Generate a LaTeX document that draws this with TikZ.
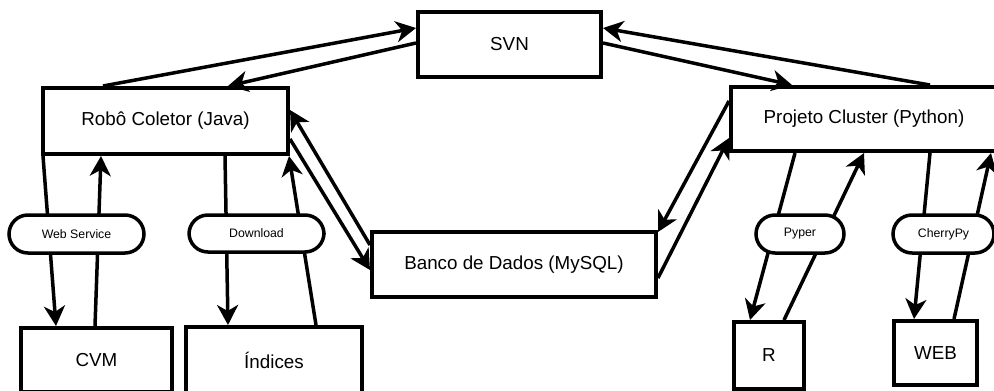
\documentclass[tikz,border=0pt]{standalone}
\usepackage{fontspec}
\setmainfont{Liberation Sans}
\usepackage{tikz}
\usetikzlibrary{arrows.meta, positioning, calc}

\begin{document}
\begin{tikzpicture}[x=1pt, y=-1pt,
        boite/.style={draw, line width=4pt, inner sep=0pt, font=\fontsize{18.8}{22}\selectfont},
        pilule/.style={draw, fill=white, line width=3.5pt, rounded corners=19pt, inner sep=0pt, font=\fontsize{12.3}{15}\selectfont},
        trait/.style={line width=3.5pt},
        fleche/.style={trait, -{Stealth[length=20pt, width=21pt, inset=6pt]}}]
        % Cadre de l'image
        \useasboundingbox (0,0) rectangle (994,391);
        \clip (0,0) rectangle (994,391);
        % Les boites
        \node[boite, minimum width=183pt, minimum height=65pt] (svn) at (509.5,44.5) {SVN};
        \node[boite, minimum width=245pt, minimum height=66pt] (robo) at (165.5,121) {Robô Coletor (Java)};
        \node[boite, minimum width=266pt, minimum height=64pt] (cluster) at (864,119) {Projeto Cluster (Python)};
        \node[boite, minimum width=284pt, minimum height=65pt] (banco) at (514,264.5) {Banco de Dados (MySQL)};
        \node[boite, minimum width=151pt, minimum height=64pt] (cvm) at (96.5,360) {CVM};
        \node[boite, minimum width=176pt, minimum height=66pt] (indices) at (274,360) {Índices};
        \node[boite, minimum width=70pt, minimum height=67pt] (r) at (769,355.5) {R};
        \node[boite, minimum width=83pt, minimum height=64pt] (web) at (935.5,353) {WEB};
        % Fleches vers SVN
        \draw[fleche] ($(robo.north west)+(62,0)$) -- ($(svn.north west)+(0,18)$);
        \draw[fleche] ($(svn.north west)+(0,33)$) -- ($(robo.north west)+(187,0)$);
        \draw[fleche] ($(svn.north east)+(0,33)$) -- ($(cluster.north west)+(63,0)$);
        \draw[fleche] ($(cluster.north west)+(201,0)$) -- ($(svn.north east)+(0,18)$);
        % Fleches vers la base
        \draw[fleche] ($(banco.north west)+(0,15)$) -- ($(robo.north east)+(0,24)$);
        \draw[fleche] ($(robo.north east)+(0,53)$) -- ($(banco.north west)+(0,40)$);
        \draw[fleche] ($(cluster.north west)+(0,16)$) -- ($(banco.north east)+(0,2)$);
        \draw[fleche] ($(banco.north east)+(0,48)$) -- ($(cluster.north west)+(0,53)$);
        % Fleches du bas
        \draw[fleche] ($(robo.south west)+(2,0)$) -- ($(cvm.north west)+(37,0)$);
        \draw[fleche] ($(cvm.north west)+(76,0)$) -- ($(robo.south west)+(60,0)$);
        \draw[fleche] ($(robo.south west)+(184,0)$) -- ($(indices.north west)+(44,0)$);
        \draw[fleche] ($(indices.north west)+(132,0)$) -- ($(robo.south east)+(-1,0)$);
        \draw[fleche] ($(cluster.south west)+(66,0)$) -- ($(r.north west)+(18,0)$);
        \draw[fleche] ($(r.north west)+(52,0)$) -- ($(cluster.south west)+(135,0)$);
        \draw[fleche] ($(cluster.south west)+(201,0)$) -- ($(web.north west)+(22,0)$);
        \draw[fleche] ($(web.north west)+(62,0)$) -- ($(cluster.south west)+(262,0)$);
        % Etiquettes
        \node[pilule, minimum width=135pt, minimum height=38pt] (ws) at (76.5,234) {Web Service};
        \node[pilule, minimum width=135pt, minimum height=37pt] (dl) at (256.5,233.5) {Download};
        \node[pilule, minimum width=88pt, minimum height=38pt] (pyper) at (800,234) {Pyper};
        \node[pilule, minimum width=101pt, minimum height=38pt] (cherry) at (943.5,234) {CherryPy};
    \end{tikzpicture}
\end{document}
